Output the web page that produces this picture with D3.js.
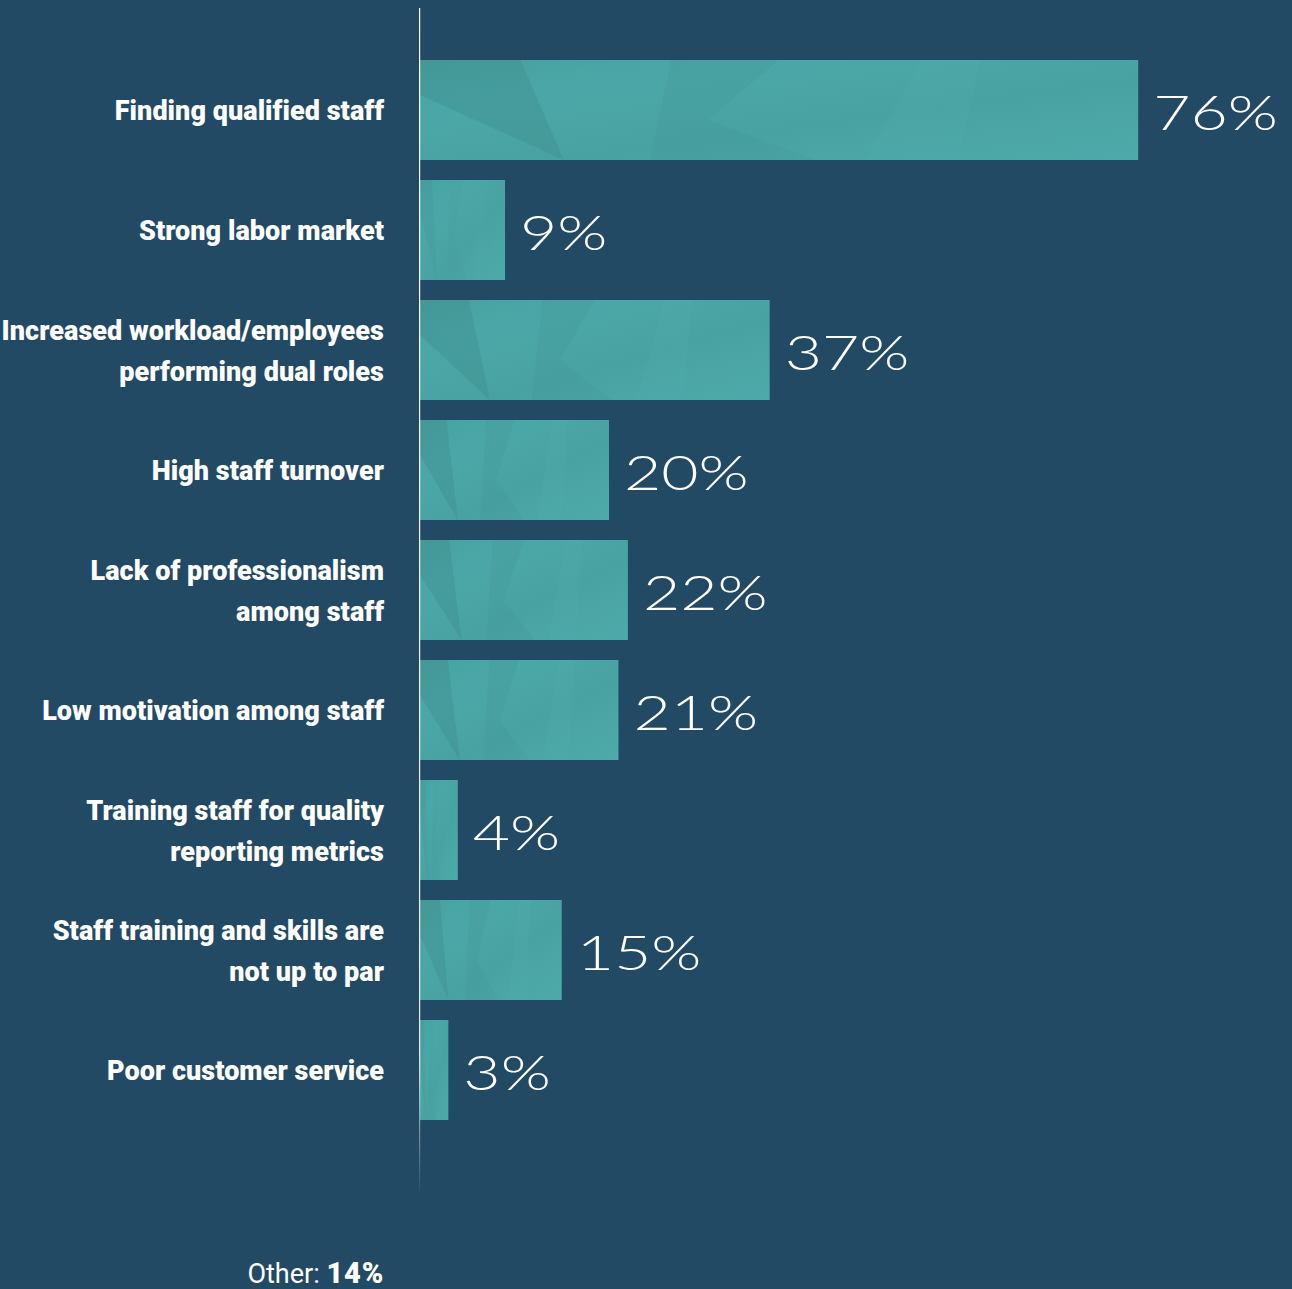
<!DOCTYPE html>
<html>
<head>
<meta charset="utf-8">
<script src="https://cdn.jsdelivr.net/npm/d3@7"></script>
<style>
  html, body { margin: 0; padding: 0; background: #234a65; }
  svg { display: block; }
</style>
</head>
<body>
<svg id="chart" width="1292" height="1289"></svg>
<script>
const categories = [
  ["Finding qualified staff"],
  ["Strong labor market"],
  ["Increased workload/employees", "performing dual roles"],
  ["High staff turnover"],
  ["Lack of professionalism", "among staff"],
  ["Low motivation among staff"],
  ["Training staff for quality", "reporting metrics"],
  ["Staff training and skills are", "not up to par"],
  ["Poor customer service"]
];
const values = [76, 9, 37, 20, 22, 21, 4, 15, 3];
const otherLabel = "Other:";
const otherValue = 14;

const W = 1292, H = 1289;
const svg = d3.select("#chart");
const bg = "#234a65";

svg.append("rect").attr("width", W).attr("height", H).attr("fill", bg);

const x = d3.scaleLinear().domain([0, 100]).range([420, 1365]);
const y = d3.scaleBand()
  .domain(d3.range(categories.length))
  .range([50, 1130])
  .paddingInner(1 / 6)
  .paddingOuter(1 / 12);

const defs = svg.append("defs");
const grad = defs.append("linearGradient").attr("id", "axisFade")
  .attr("x1", 0).attr("x2", 0).attr("y1", 0).attr("y2", 1);
grad.append("stop").attr("offset", "0%").attr("stop-color", "#ffffff").attr("stop-opacity", 1);
grad.append("stop").attr("offset", "88%").attr("stop-color", "#ffffff").attr("stop-opacity", 0.9);
grad.append("stop").attr("offset", "100%").attr("stop-color", "#ffffff").attr("stop-opacity", 0);

const barGrad = defs.append("linearGradient").attr("id", "barShade")
  .attr("x1", 0).attr("x2", 1).attr("y1", 0).attr("y2", 1);
barGrad.append("stop").attr("offset", "0%").attr("stop-color", "#47a0a0");
barGrad.append("stop").attr("offset", "25%").attr("stop-color", "#4ba7a7");
barGrad.append("stop").attr("offset", "60%").attr("stop-color", "#49a2a2");
barGrad.append("stop").attr("offset", "100%").attr("stop-color", "#4eaaaa");

// bars
const barG = svg.append("g");
barG.selectAll("rect")
  .data(values)
  .join("rect")
  .attr("x", x(0))
  .attr("y", (d, i) => y(i))
  .attr("width", d => x(d) - x(0))
  .attr("height", y.bandwidth())
  .attr("fill", "url(#barShade)");

// subtle faceted texture (relative to each bar)
values.forEach((d, i) => {
  const x0 = x(0), x1 = x(d), y0 = y(i), h = y.bandwidth();
  const w = x1 - x0;
  const facets = [
    { pts: [[0, 0], [0.14, 0], [0.2, 1], [0, 0.35]], c: "#3a8586", o: 0.3 },
    { pts: [[0.35, 0], [0.5, 0], [0.4, 0.6], [0.55, 1], [0.32, 1]], c: "#3f8f90", o: 0.2 },
    { pts: [[0.7, 0], [0.78, 0], [0.75, 1], [0.62, 1]], c: "#5ab3b2", o: 0.15 }
  ];
  const k = w < 120 ? 0.4 : 1;
  facets.forEach(f => {
    barG.append("polygon")
      .attr("points", f.pts.map(p => [x0 + p[0] * w, y0 + p[1] * h].join(",")).join(" "))
      .attr("fill", f.c)
      .attr("opacity", f.o * k);
  });
});

// value labels
svg.append("g").selectAll("text")
  .data(values)
  .join("text")
  .attr("transform", (d, i) => `translate(${x(d) + 15},${y(i) + y.bandwidth() / 2 + 20}) scale(1.34,1)`)
  .attr("fill", "#ffffff")
  .attr("font-family", "Lato, 'Open Sans', sans-serif")
  .attr("font-weight", 300)
  .attr("font-size", 48)
  .text(d => d + "%");

// category labels
const labelX = 384;
const lineGap = 41;
const catG = svg.append("g")
  .attr("font-family", "Roboto, 'Liberation Sans', sans-serif")
  .attr("font-weight", 900)
  .attr("font-size", 27)
  .attr("letter-spacing", "0.05")
  .attr("fill", "#ffffff")
  .attr("text-anchor", "end");

categories.forEach((lines, i) => {
  const cy = y(i) + y.bandwidth() / 2;
  const n = lines.length;
  lines.forEach((line, j) => {
    catG.append("text")
      .attr("x", labelX)
      .attr("y", cy + (j - (n - 1) / 2) * lineGap + 10)
      .text(line);
  });
});

// axis line
svg.append("rect")
  .attr("x", 419)
  .attr("y", 8)
  .attr("width", 1.2)
  .attr("height", 1188)
  .attr("fill", "url(#axisFade)");

// Other label
const other = svg.append("text")
  .attr("x", labelX)
  .attr("y", 1283)
  .attr("text-anchor", "end")
  .attr("fill", "#ffffff")
  .attr("font-family", "Roboto, 'Liberation Sans', sans-serif")
  .attr("font-size", 27);
other.append("tspan").attr("font-weight", 400).text(otherLabel + " ");
other.append("tspan").attr("font-weight", 900).attr("font-size", 29).attr("letter-spacing", "0.8").text(otherValue + "%");
</script>
</body>
</html>
